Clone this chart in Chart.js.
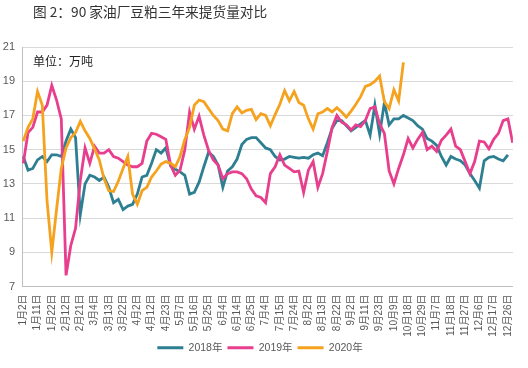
<!DOCTYPE html>
<html lang="zh">
<head>
<meta charset="UTF-8">
<title>90家油厂豆粕三年来提货量对比</title>
<style>
    * {
        margin: 0;
        padding: 0;
        box-sizing: border-box;
    }

    body {
        width: 528px;
        height: 368px;
        background: #fff;
        position: relative;
        overflow: hidden;
        font-family: "Noto Sans CJK SC", sans-serif;
    }

    /* title and unit sit on top of the canvas */
    .title {
        position: absolute;
        left: 33px;
        top: 1px;
        font-size: 13.7px;
        color: #333;
    }

    .unit {
        position: absolute;
        left: 33px;
        top: 52px;
        font-size: 12px;
        color: #222;
    }

    .chart-box {
        position: absolute;
        left: 0;
        top: 0;
        width: 528px;
        height: 368px;
    }
</style>
</head>
<body>

<div class="chart-box"><canvas id="chart"></canvas></div>
<div class="title">图 2：90 家油厂豆粕三年来提货量对比</div>
<div class="unit">单位：万吨</div>

<script src="https://cdn.jsdelivr.net/npm/chart.js"></script>
<script>
    // x-axis labels (one every 7 trading days)
    const dateLabels = ['1月2日', '1月11日', '1月22日', '2月12日', '2月21日', '3月4日', '3月13日', '3月22日',
        '4月2日', '4月12日', '4月23日', '5月7日', '5月16日', '5月25日', '6月4日', '6月14日', '6月25日',
        '7月4日', '7月15日', '7月24日', '8月2日', '8月13日', '8月22日', '9月2日', '9月11日', '9月23日',
        '10月9日', '10月18日', '10月29日', '11月7日', '11月18日', '11月27日', '12月6日', '12月17日', '12月26日'];

    const seriesNames = ['2018年', '2019年', '2020年'];
    const yTicks = [7, 9, 11, 13, 15, 17, 19, 21];

    // values, one every third of a label step
    const step = 1 / 3;

    const v2018 = [14.6, 13.8, 13.9, 14.4, 14.6, 14.3, 14.7, 14.7, 14.6, 15.5, 16.2, 15.7, 11.2, 13.0, 13.5, 13.4,
        13.2, 13.4, 12.8, 11.9, 12.1, 11.5, 11.7, 11.8, 12.4, 13.4, 13.5, 14.2, 15.0, 14.8, 15.1, 14.05, 13.85, 13.7,
        13.5, 12.4, 12.5, 13.1, 14.0, 14.85, 14.6, 14.1, 12.8, 13.75, 14.0, 14.45, 15.3, 15.6, 15.7, 15.7, 15.4, 15.1,
        15.0, 14.6, 14.4, 14.45, 14.6, 14.55, 14.5, 14.55, 14.5, 14.7, 14.8, 14.65, 15.4, 16.25, 16.7, 16.7, 16.4,
        16.1, 16.3, 16.5, 16.7, 15.85, 17.6, 15.9, 17.75, 16.45, 16.8, 16.8, 17.0, 16.85, 16.7, 16.4, 16.2, 15.65,
        15.5, 15.25, 14.6, 14.1, 14.6, 14.45, 14.35, 14.1, 13.6, 13.2, 12.75, 14.35, 14.55, 14.6, 14.45, 14.35, 14.7];

    const v2019 = [14.2, 16.0, 16.3, 17.2, 17.2, 17.6, 18.75, 17.9, 16.8, 7.65, 9.4, 10.4, 13.2, 15.1, 14.2, 15.2,
        14.8, 14.8, 15.0, 14.6, 14.5, 14.3, 14.1, 14.0, 14.0, 14.2, 15.5, 15.95, 15.9, 15.75, 15.6, 14.1, 13.5, 13.8,
        15.0, 17.2, 16.2, 16.95, 15.85, 14.95, 14.4, 14.1, 13.3, 13.6, 13.7, 13.7, 13.6, 13.3, 12.7, 12.3, 12.2, 11.9,
        13.6, 14.0, 14.7, 14.1, 13.9, 13.7, 13.75, 12.5, 13.8, 14.3, 12.8, 13.6, 14.9, 16.3, 17.0, 16.6, 16.45, 16.15,
        16.45, 16.35, 16.7, 17.4, 17.5, 16.5, 15.95, 13.75, 13.0, 13.9, 14.7, 15.65, 15.1, 15.6, 16.0, 15.0, 15.2,
        14.9, 15.55, 15.85, 16.2, 15.2, 15.0, 14.3, 13.6, 14.3, 15.5, 15.45, 15.05, 15.6, 15.95, 16.7, 16.8, 15.4];

    const v2020 = [15.5, 16.3, 16.8, 18.4, 17.6, 12.0, 9.0, 11.5, 13.9, 15.1, 15.7, 16.0, 16.65, 16.1, 15.65, 15.05,
        14.4, 13.3, 12.6, 12.55, 13.15, 13.9, 14.6, 12.4, 11.8, 12.6, 12.8, 13.4, 13.75, 14.15, 14.3, 14.2, 14.0, 14.6,
        15.6, 16.3, 17.6, 17.9, 17.8, 17.4, 17.0, 16.7, 16.2, 16.1, 17.1, 17.5, 17.15, 17.3, 17.35, 16.75, 17.1, 17.0,
        16.4, 17.05, 17.65, 18.45, 17.85, 18.4, 17.75, 17.6, 16.8, 16.2, 17.1, 17.2, 17.4, 17.2, 17.45, 17.2, 16.9,
        17.25, 17.65, 18.1, 18.7, 18.8, 19.0, 19.3, 17.8, 17.4, 18.5, 17.85, 20.1];

    const colors = ['#2e7f92', '#e83e8e', '#f5a21f'];

    function toPoints(values) {
        return values.map((v, k) => ({ x: k * step, y: v }));
    }

    const allValues = [v2018, v2019, v2020];

    const datasets = allValues.map((vals, i) => ({
        label: seriesNames[i],
        data: toPoints(vals),
        borderColor: colors[i],
        backgroundColor: colors[i],
        borderWidth: 2.8,
        pointRadius: 0,
        tension: 0,
        fill: false,
        order: 2 - i   // 2020 drawn on top
    }));

    const tickFont = "'Liberation Sans', 'Noto Sans CJK SC'";

    const ctx = document.getElementById('chart').getContext('2d');
    const chart = new Chart(ctx, {
        type: 'line',
        data: { datasets: datasets },
        options: {
            responsive: true,
            maintainAspectRatio: false,
            animation: false,
            layout: {
                padding: { left: 0, right: 8, top: 47, bottom: 5 }
            },
            plugins: {
                legend: {
                    position: 'bottom',
                    labels: {
                        usePointStyle: true,
                        pointStyle: 'line',
                        pointStyleWidth: 26,
                        padding: 5,
                        color: '#595959',
                        font: { size: 10.5, family: tickFont },
                        sort: (a, b) => a.datasetIndex - b.datasetIndex
                    }
                },
                tooltip: { enabled: false }
            },
            scales: {
                x: {
                    type: 'linear',
                    min: -0.09,
                    max: 34.35,
                    afterFit: (scale) => { scale.height = 51; },
                    grid: { display: false, drawTicks: false },
                    border: { display: true, color: '#bfbfbf' },
                    ticks: {
                        stepSize: 1,
                        includeBounds: false,
                        autoSkip: false,
                        minRotation: 90,
                        maxRotation: 90,
                        padding: 8,
                        color: '#595959',
                        font: { size: 10, family: tickFont },
                        callback: (value) => Number.isInteger(value) ? dateLabels[value] : ''
                    }
                },
                y: {
                    min: yTicks[0],
                    max: yTicks[yTicks.length - 1],
                    afterFit: (scale) => { scale.width = 22; },
                    grid: { color: '#d9d9d9', drawTicks: false },
                    border: { display: true, color: '#bfbfbf' },
                    afterBuildTicks: (scale) => {
                        scale.ticks = yTicks.map(v => ({ value: v }));
                    },
                    ticks: {
                        padding: 7,
                        color: '#595959',
                        font: { size: 11, family: tickFont }
                    }
                }
            }
        }
    });
</script>

</body>
</html>
